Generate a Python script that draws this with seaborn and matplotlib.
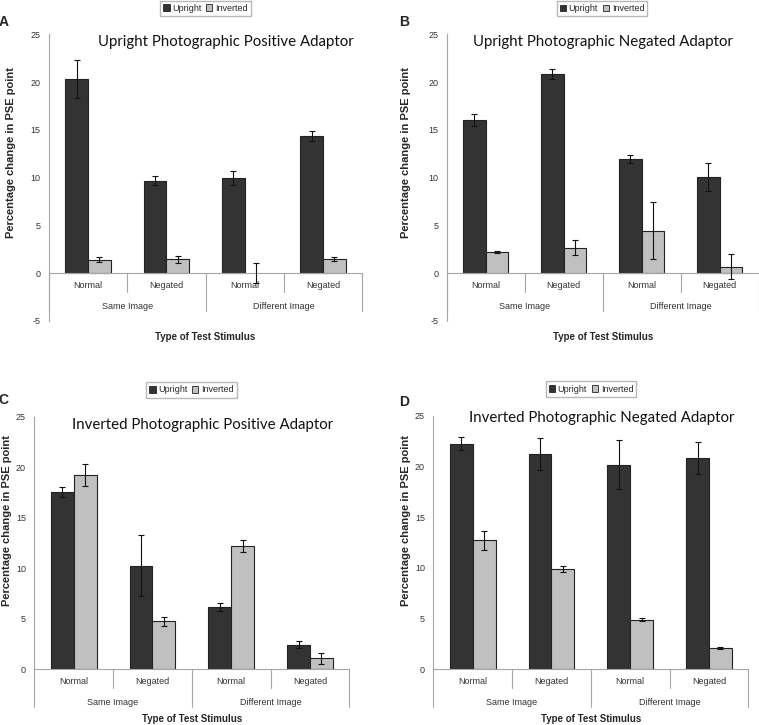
import pandas as pd
import seaborn as sns
import matplotlib.pyplot as plt
from matplotlib.patches import Patch
from matplotlib.transforms import blended_transform_factory

# categories
cat_ids = ['Same-Normal', 'Same-Negated', 'Diff-Normal', 'Diff-Negated']
stim_labels = ['Normal', 'Negated', 'Normal', 'Negated']
group_labels = ['Same Image', 'Different Image']
orient = ['Upright', 'Inverted']

# values (mean, error)
a_up = [20.35, 9.7, 9.97, 14.36]
a_up_err = [2.0, 0.5, 0.77, 0.57]
a_inv = [1.42, 1.45, 0.0, 1.5]
a_inv_err = [0.26, 0.33, 1.05, 0.18]

b_up = [16.05, 20.85, 11.92, 10.07]
b_up_err = [0.65, 0.55, 0.42, 1.5]
b_inv = [2.2, 2.68, 4.44, 0.7]
b_inv_err = [0.08, 0.78, 3.0, 1.35]

c_up = [17.55, 10.26, 6.17, 2.44]
c_up_err = [0.45, 3.0, 0.4, 0.35]
c_inv = [19.24, 4.75, 12.18, 1.09]
c_inv_err = [1.12, 0.45, 0.6, 0.52]

d_up = [22.22, 21.2, 20.18, 20.84]
d_up_err = [0.65, 1.6, 2.4, 1.6]
d_inv = [12.7, 9.9, 4.9, 2.13]
d_inv_err = [0.97, 0.3, 0.15, 0.1]

W, H = 759, 725
colors = {'Upright': '#333333', 'Inverted': '#c0c0c0'}
axis_gray = '#a6a6a6'
text_gray = '#333333'

sns.set_style('white')
plt.rcParams['font.family'] = ['Liberation Sans', 'DejaVu Sans']
plt.rcParams['axes.unicode_minus'] = False

fig = plt.figure(figsize=(W / 100, H / 100), dpi=100)


def px_axes(left, right, top, bottom):
    return fig.add_axes([left / W, 1 - bottom / H, (right - left) / W, (bottom - top) / H])


def panel(ax, up, up_err, inv, inv_err, ymin):
    df = pd.DataFrame({
        'cat': cat_ids * 2,
        'orient': ['Upright'] * 4 + ['Inverted'] * 4,
        'value': up + inv,
    })
    sns.barplot(data=df, x='cat', y='value', hue='orient', order=cat_ids,
                hue_order=orient, palette=colors, width=0.58, errorbar=None,
                edgecolor='#222222', linewidth=0.8, legend=False, ax=ax)
    for cont, errs in zip(ax.containers, [up_err, inv_err]):
        for bar, e in zip(cont, errs):
            if bar.get_height() == 0:
                bar.set_visible(False)
            xc = bar.get_x() + bar.get_width() / 2
            yv = bar.get_y() + bar.get_height()
            ax.errorbar(xc, yv, yerr=e, color='#111111', lw=0.8,
                        capsize=2.5, capthick=0.8, zorder=5)

    ax.set_xlim(-0.5, 3.5)
    ax.set_ylim(ymin, 25)
    ax.set_yticks(range(ymin, 26, 5))
    ax.set_xlabel('')
    ax.set_ylabel('')
    for s in ['top', 'right']:
        ax.spines[s].set_visible(False)
    for s in ['left', 'bottom']:
        ax.spines[s].set_color(axis_gray)
        ax.spines[s].set_linewidth(0.8)
    ax.spines['bottom'].set_position(('data', 0))
    ax.set_xticks(range(4))
    ax.set_xticklabels(stim_labels)
    ax.tick_params(axis='x', length=0, pad=5.5, labelsize=6.5, labelcolor=text_gray)
    ax.tick_params(axis='y', length=3, width=0.8, color=axis_gray, direction='out',
                   labelsize=6.5, labelcolor=text_gray, pad=3)

    # multi-level category axis
    pos = ax.get_position()
    ax_h = pos.height * H
    y0 = (0 - ymin) / (25 - ymin)
    trans = blended_transform_factory(ax.transData, ax.transAxes)
    for xd, depth in [(-0.5, 38), (0.5, 18.5), (1.5, 38), (2.5, 18.5), (3.5, 38)]:
        ax.plot([xd, xd], [y0, y0 - depth / ax_h], transform=trans, clip_on=False,
                color=axis_gray, lw=0.8)
    for xg, lab in zip([0.5, 2.5], group_labels):
        ax.text(xg, y0 - 33 / ax_h, lab, transform=trans, ha='center', va='center',
                fontsize=6.5, color=text_gray)


def ftext(x, y, s, **kw):
    fig.text(x / W, 1 - y / H, s, **kw)


handles = [Patch(facecolor=colors[o], edgecolor='#222222', linewidth=0.6) for o in orient]

panels = [
    (px_axes(49, 362, 34.3, 321), a_up, a_up_err, a_inv, a_inv_err, -5,
     'Upright Photographic Positive Adaptor', (226, 42), 'A', (4, 22), (205.5, 8.3), (11, 153), (205, 337)),
    (px_axes(446.7, 758.7, 34.3, 321), b_up, b_up_err, b_inv, b_inv_err, -5,
     'Upright Photographic Negated Adaptor', (602.7, 42), 'B', (404.5, 22), (602, 8.5), (405.7, 153), (603, 337)),
    (px_axes(34.3, 349.3, 416.7, 669.3), c_up, c_up_err, c_inv, c_inv_err, 0,
     'Inverted Photographic Positive Adaptor', (202.5, 425), 'C', (3.5, 400), (191.5, 390), (7, 520), (192, 719)),
    (px_axes(433.3, 748.3, 415.7, 669.3), d_up, d_up_err, d_inv, d_inv_err, 0,
     'Inverted Photographic Negated Adaptor', (601.7, 418), 'D', (404.5, 402.5), (591, 389), (405.7, 520), (591, 719)),
]

for ax, up, ue, inv, ie, ymin, title, t_xy, letter, l_xy, leg_xy, yl_xy, xl_xy in panels:
    panel(ax, up, ue, inv, ie, ymin)
    ftext(*t_xy, title, ha='center', va='center', fontsize=10.8,
          family=['Lato', 'DejaVu Sans'], color='#111111')
    ftext(*l_xy, letter, ha='center', va='center', fontsize=10, fontweight='bold')
    ftext(*yl_xy, 'Percentage change in PSE point', ha='center', va='center',
          rotation=90, fontsize=8, fontweight='bold')
    ftext(*xl_xy, 'Type of Test Stimulus', ha='center', va='center',
          fontsize=7, fontweight='bold')
    fig.legend(handles, orient, loc='center',
               bbox_to_anchor=(leg_xy[0] / W, 1 - leg_xy[1] / H), ncol=2,
               fontsize=6.5, frameon=True, fancybox=False, edgecolor=axis_gray,
               handlelength=0.7, handleheight=0.7, handletextpad=0.3,
               columnspacing=0.5, borderpad=0.35, borderaxespad=0)

fig.savefig('out.png', dpi=100)
